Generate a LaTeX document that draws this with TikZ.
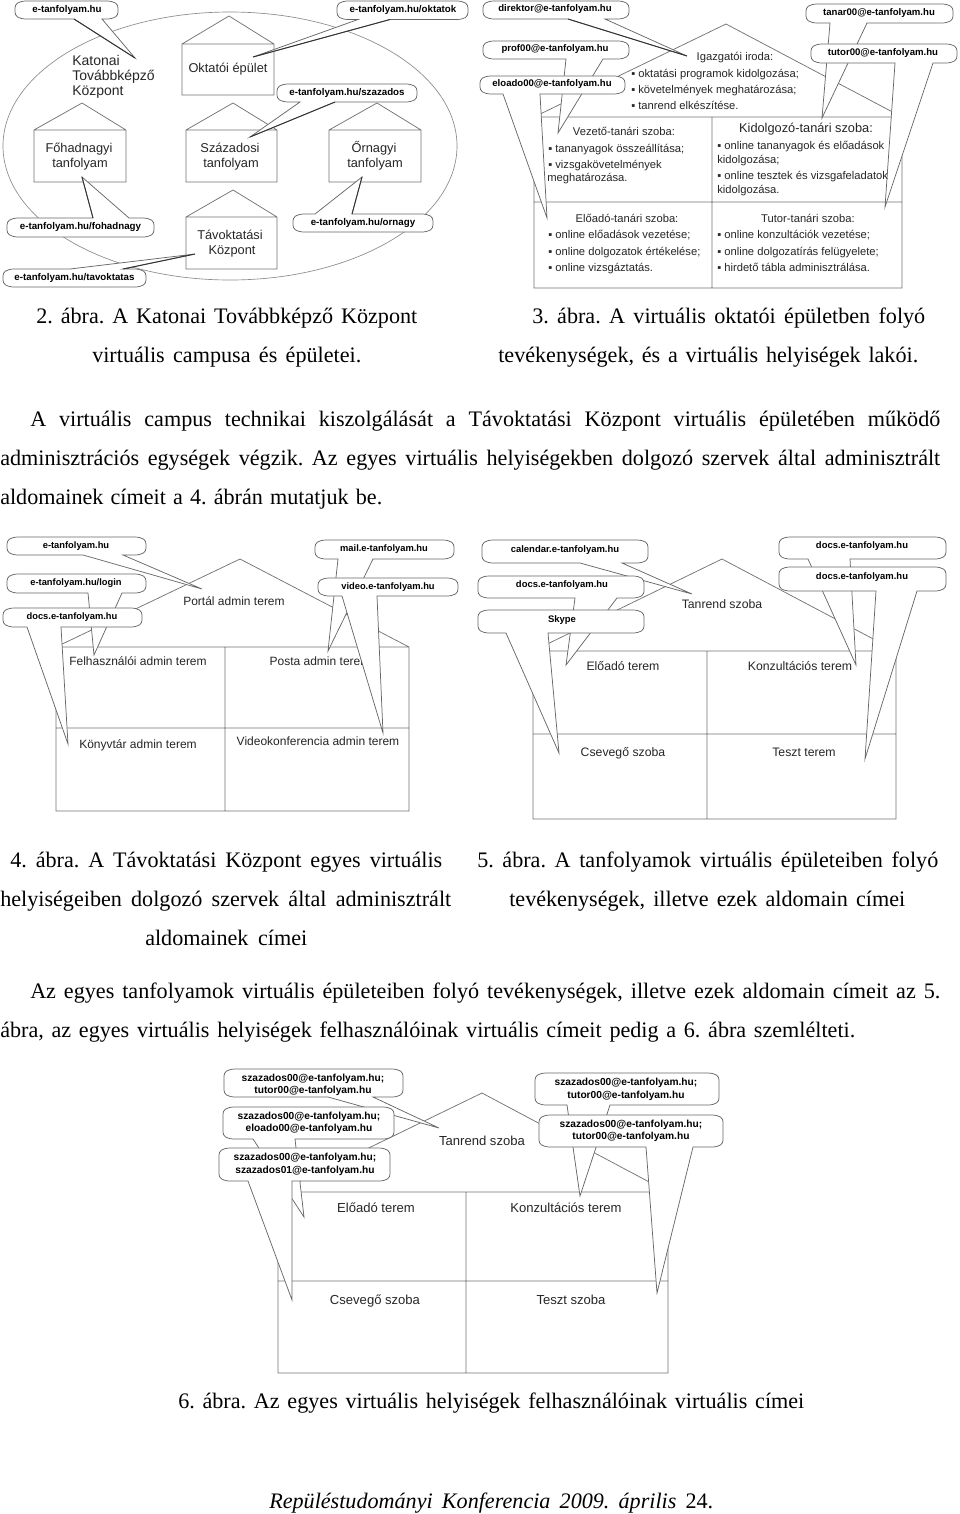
\documentclass[tikz,border=0pt]{standalone}
\usepackage{fontspec}
\setmainfont{Liberation Serif}
\setsansfont{Liberation Sans}
\newcounter{tn}
\newlength{\justw}
\tikzset{
  wall/.style={draw=black!55,line width=.55pt,fill=white},
  callshape/.style={draw=black!60,line width=.55pt,fill=white},
  darkedge/.style={draw=black!80,line width=.7pt},
  labeltext/.style={inner sep=0pt,text=black!85},
  bodytext/.style={inner sep=0pt,text=black,anchor=base west,font=\rmfamily\fontsize{16.6}{18}\selectfont\frenchspacing},
}
% justified body line: x-left, x-right, y-centre, text
\newcommand{\bodyline}[4]{\stepcounter{tn}\pgfmathsetlength{\justw}{(#2-#1)*0.75pt}%
  \node[bodytext] (t\thetn) at (#1,#3+7) {\makebox[\justw][s]{#4}};}
% centred / left-anchored sans labels: x,y,size,text
\newcommand{\clabel}[4]{\stepcounter{tn}\node[labeltext,text height=.72em,text depth=.2em,font=\sffamily\fontsize{#3}{#3}\selectfont] (t\thetn) at (#1,#2) {#4};}
\newcommand{\llabel}[4]{\stepcounter{tn}\node[labeltext,text height=.72em,text depth=.2em,anchor=west,font=\sffamily\fontsize{#3}{#3}\selectfont] (t\thetn) at (#1,#2) {#4};}
% bold bubble text: x,y,size,text
\newcommand{\btext}[4]{\stepcounter{tn}\node[labeltext,text=black,align=center,font=\sffamily\bfseries\fontsize{#3}{9.4}\selectfont] (t\thetn) at (#1,#2) {#4};}
% callout with tail on bottom edge: name,x1,y1,x2,y2,b1,tipx,tipy,b2
\newcommand{\callB}[9]{%
  \coordinate (#1-a) at (#6,#5); \coordinate (#1-b) at (#9,#5); \coordinate (#1-t) at (#7,#8);
  \draw[callshape] (#1-a) -- (#1-t) -- (#1-b) -- (#4-12,#5) .. controls (#4-3,#5) and (#4,#5-3) .. (#4,#5-7)
    -- (#4,#3+7) .. controls (#4,#3+3) and (#4-3,#3) .. (#4-12,#3)
    -- (#2+12,#3) .. controls (#2+3,#3) and (#2,#3+3) .. (#2,#3+7)
    -- (#2,#5-7) .. controls (#2,#5-3) and (#2+3,#5) .. (#2+12,#5) -- cycle;}
% callout with tail on top edge
\newcommand{\callT}[9]{%
  \coordinate (#1-a) at (#6,#3); \coordinate (#1-b) at (#9,#3); \coordinate (#1-t) at (#7,#8);
  \draw[callshape] (#1-a) -- (#1-t) -- (#1-b) -- (#4-12,#3) .. controls (#4-3,#3) and (#4,#3+3) .. (#4,#3+7)
    -- (#4,#5-7) .. controls (#4,#5-3) and (#4-3,#5) .. (#4-12,#5)
    -- (#2+12,#5) .. controls (#2+3,#5) and (#2,#5-3) .. (#2,#5-7)
    -- (#2,#3+7) .. controls (#2,#3+3) and (#2+3,#3) .. (#2+12,#3) -- cycle;}
\newcommand{\dkA}[1]{\draw[darkedge] (#1-a) -- (#1-t);}
\newcommand{\dkB}[1]{\draw[darkedge] (#1-b) -- (#1-t);}
% small house: x1,x2,y1,y2,apexx,apexy
\newcommand{\house}[6]{\draw[wall] (#1,#3) -- (#5,#6) -- (#2,#3) -- (#2,#4) -- (#1,#4) -- cycle (#1,#3) -- (#2,#3);}
% building: x1,x2,y1,y2,xm,ym,apexx,apexy
\newcommand{\building}[8]{\draw[wall] (#1,#3) -- (#7,#8) -- (#2,#3) -- (#2,#4) -- (#1,#4) -- cycle
   (#1,#3) -- (#2,#3) (#5,#3) -- (#5,#4) (#1,#6) -- (#2,#6);}
\begin{document}
\begin{tikzpicture}[x=0.75pt,y=-0.75pt]
\useasboundingbox (0,0) rectangle (960,1514);
\fill[white] (0,0) rectangle (960,1514);

% ---------- Figure 2
\draw[draw=black!45,line width=.5pt] (230,146) ellipse [x radius=227,y radius=134];
\house{182}{274}{44}{95}{229}{16}
\house{34}{126}{130}{182}{82}{103}
\house{186}{277}{130}{182}{233}{103}
\house{329}{421}{130}{182}{377}{103}
\house{186}{277}{217}{269}{233}{190}
\llabel{72}{62}{10.5}{Katonai}
\llabel{72}{77}{10.5}{Továbbképző}
\llabel{72}{92}{10.5}{Központ}
\clabel{228}{69.5}{9.6}{Oktatói épület}
\clabel{79}{149}{9.6}{Főhadnagyi}
\clabel{80}{164}{9.6}{tanfolyam}
\clabel{230}{149}{9.6}{Századosi}
\clabel{231}{164}{9.6}{tanfolyam}
\clabel{374}{149}{9.6}{Őrnagyi}
\clabel{375}{164}{9.6}{tanfolyam}
\clabel{230}{236}{9.6}{Távoktatási}
\clabel{232}{251}{9.6}{Központ}
\callB{fa}{15}{1}{118}{19}{74}{135}{58}{102} \dkA{fa}
\callB{fb}{337}{1}{468}{19.5}{358}{253}{57}{390} \dkB{fb}
\callB{fc}{277}{84}{417}{102}{300}{250}{137}{335} \dkB{fc}
\callT{fd}{7}{218}{154}{237}{93}{82}{177}{129} \dkA{fd}
\callT{fe}{293}{214}{433}{232}{315}{362}{177}{352} \dkB{fe}
\callT{ff}{3}{269}{146}{287}{70}{195}{254}{123} \dkB{ff}
\btext{67}{9.5}{7.3}{e-tanfolyam.hu}
\btext{403}{9.5}{7.3}{e-tanfolyam.hu/oktatok}
\btext{347}{92.5}{7.3}{e-tanfolyam.hu/szazados}
\btext{80.5}{227}{7.3}{e-tanfolyam.hu/fohadnagy}
\btext{363}{223}{7.3}{e-tanfolyam.hu/ornagy}
\btext{74.5}{278}{7.3}{e-tanfolyam.hu/tavoktatas}

% ---------- Figure 3
\building{534}{902}{117}{288}{712}{202}{726}{24}
\callB{ga}{483}{1}{629}{19}{568}{687}{56}{605} \dkA{ga}
\callB{gb}{483}{41}{629}{59}{566}{558}{133}{603}
\callB{gc}{480}{76}{625}{94}{503}{547}{218}{540}
\callB{gd}{806}{4}{953}{23}{830}{822}{118}{867}
\callB{ge}{811}{44}{957}{63}{895}{885}{207}{933}
\clabel{735}{57}{8.4}{Igazgatói iroda:}
\llabel{631}{74}{8.4}{▪ oktatási programok kidolgozása;}
\llabel{631}{90}{8.4}{▪ követelmények meghatározása;}
\llabel{631}{106}{8.4}{▪ tanrend elkészítése.}
\clabel{624}{132}{8.4}{Vezető-tanári szoba:}
\llabel{548}{149}{8.4}{▪ tananyagok összeállítása;}
\llabel{548}{165}{8.4}{▪ vizsgakövetelmények}
\llabel{547}{178}{8.4}{meghatározása.}
\clabel{806}{129}{9.6}{Kidolgozó-tanári szoba:}
\llabel{717}{146}{8.4}{▪ online  tananyagok és előadások}
\llabel{717}{160}{8.4}{kidolgozása;}
\llabel{717}{176}{8.4}{▪ online tesztek és vizsgafeladatok}
\llabel{717}{190}{8.4}{kidolgozása.}
\clabel{627}{219}{8.4}{Előadó-tanári szoba:}
\llabel{548}{235}{8.4}{▪ online előadások vezetése;}
\llabel{548}{252}{8.4}{▪ online dolgozatok értékelése;}
\llabel{548}{268}{8.4}{▪ online vizsgáztatás.}
\clabel{808}{219}{8.4}{Tutor-tanári szoba:}
\llabel{717}{235}{8.4}{▪ online konzultációk vezetése;}
\llabel{717}{252}{8.4}{▪ online dolgozatírás felügyelete;}
\llabel{717}{268}{8.4}{▪ hirdető tábla adminisztrálása.}
\btext{555}{9.5}{7.2}{direktor@e-tanfolyam.hu}
\btext{555}{49}{7.2}{prof00@e-tanfolyam.hu}
\btext{552}{84.5}{7.2}{eloado00@e-tanfolyam.hu}
\btext{879}{13}{7.2}{tanar00@e-tanfolyam.hu}
\btext{883}{53}{7.2}{tutor00@e-tanfolyam.hu}

% ---------- Captions and paragraph
\bodyline{36}{417}{316}{2. ábra. A Katonai Továbbképző Központ}
\bodyline{92}{361}{355}{virtuális campusa és épületei.}
\bodyline{532}{925}{316}{3. ábra.  A virtuális oktatói épületben folyó}
\bodyline{498}{918}{355}{tevékenységek, és a virtuális helyiségek lakói.}
\bodyline{30}{940}{419}{A virtuális campus technikai kiszolgálását a Távoktatási Központ virtuális épületében működő}
\bodyline{0}{940}{458}{adminisztrációs egységek végzik. Az egyes virtuális helyiségekben dolgozó szervek által adminisztrált}
\bodyline{0}{382}{497}{aldomainek címeit a 4. ábrán mutatjuk be.}

% ---------- Figure 4
\building{56}{409}{647}{811}{225}{728}{240}{559}
\clabel{234}{602}{9.0}{Portál admin terem}
\clabel{138}{662}{9.0}{Felhasználói admin terem}
\clabel{320}{662}{9.0}{Posta admin terem}
\clabel{138}{745}{9.0}{Könyvtár admin terem}
\clabel{318}{742}{9.0}{Videokonferencia admin terem}
\callB{ha}{7}{537}{146}{555}{83}{202}{589}{123}
\callB{hb}{315}{540}{454}{559}{338}{328}{651}{373}
\callB{hc}{7}{574}{146}{593}{88}{94}{655}{122}
\callB{hd}{3}{608}{142}{627}{27}{68}{744}{61}
\callB{he}{318}{578}{458}{596}{342}{383}{733}{377}
\btext{76}{546}{7}{e-tanfolyam.hu}
\btext{384}{549}{7}{mail.e-tanfolyam.hu}
\btext{76}{583}{7}{e-tanfolyam.hu/login}
\btext{72}{617}{7}{docs.e-tanfolyam.hu}
\btext{388}{587}{7}{video.e-tanfolyam.hu}

% ---------- Figure 5
\building{533}{896}{651}{819}{707}{734}{722}{559}
\clabel{722}{605}{9.2}{Tanrend szoba}
\clabel{623}{667}{9.2}{Előadó terem}
\clabel{800}{667}{9.2}{Konzultációs terem}
\clabel{623}{753}{9.2}{Csevegő szoba}
\clabel{804}{753}{9.2}{Teszt terem}
\callB{ia}{482}{540}{648}{563}{580}{692}{594}{622}
\callB{ib}{478}{576}{644}{598}{575}{566}{665}{617}
\callB{ic}{478}{610}{644}{633}{506}{559}{753}{548}
\callB{id}{779}{537}{946}{559}{808}{856}{665}{850}
\callB{ie}{779}{567}{946}{591}{876}{865}{759}{917}
\btext{565}{550}{7.1}{calendar.e-tanfolyam.hu}
\btext{562}{585}{7.1}{docs.e-tanfolyam.hu}
\btext{562}{620}{7.1}{Skype}
\btext{862}{546}{7.1}{docs.e-tanfolyam.hu}
\btext{862}{577}{7.1}{docs.e-tanfolyam.hu}

% ---------- Captions and paragraph
\bodyline{10}{442}{860}{4. ábra.  A Távoktatási Központ egyes virtuális}
\bodyline{0}{451}{899}{helyiségeiben dolgozó szervek által adminisztrált}
\bodyline{145}{307}{938}{aldomainek címei}
\bodyline{477}{938}{860}{5. ábra.  A tanfolyamok virtuális épületeiben folyó}
\bodyline{509}{905}{899}{tevékenységek, illetve ezek aldomain címei}
\bodyline{30}{940}{991}{Az egyes tanfolyamok virtuális épületeiben folyó tevékenységek, illetve ezek aldomain címeit az 5.}
\bodyline{0}{855}{1030}{ábra, az egyes virtuális helyiségek felhasználóinak virtuális címeit pedig a 6. ábra szemlélteti.}

% ---------- Figure 6
\building{278}{668}{1192}{1373}{466}{1281}{482}{1093}
\clabel{482}{1142}{9.8}{Tanrend szoba}
\clabel{376}{1209}{9.8}{Előadó terem}
\clabel{566}{1209}{9.8}{Konzultációs terem}
\clabel{375}{1301}{9.8}{Csevegő szoba}
\clabel{571}{1301}{9.8}{Teszt szoba}
\callB{ja}{224}{1069}{403}{1097}{328}{439}{1128}{373}
\callB{jb}{223}{1107}{394}{1139}{253}{304}{1217}{295}
\callB{jc}{219}{1148}{390}{1181}{248}{292}{1300}{292}
\callB{jd}{535}{1073}{719}{1105}{567}{580}{1196}{610}
\callB{je}{539}{1115}{723}{1147}{646}{657}{1293}{693}
\btext{313}{1085}{7.65}{szazados00@e-tanfolyam.hu;\\tutor00@e-tanfolyam.hu}
\btext{309}{1123}{7.65}{szazados00@e-tanfolyam.hu;\\eloado00@e-tanfolyam.hu}
\btext{305}{1164.5}{7.65}{szazados00@e-tanfolyam.hu;\\szazados01@e-tanfolyam.hu}
\btext{626}{1089.5}{7.65}{szazados00@e-tanfolyam.hu;\\tutor00@e-tanfolyam.hu}
\btext{631}{1131}{7.65}{szazados00@e-tanfolyam.hu;\\tutor00@e-tanfolyam.hu}

% ---------- Bottom captions
\bodyline{178}{804}{1401}{6. ábra. Az egyes virtuális helyiségek felhasználóinak virtuális címei}
\bodyline{269}{713}{1501}{\textit{Repüléstudományi Konferencia 2009. április} 24.}
\end{tikzpicture}
\end{document}
